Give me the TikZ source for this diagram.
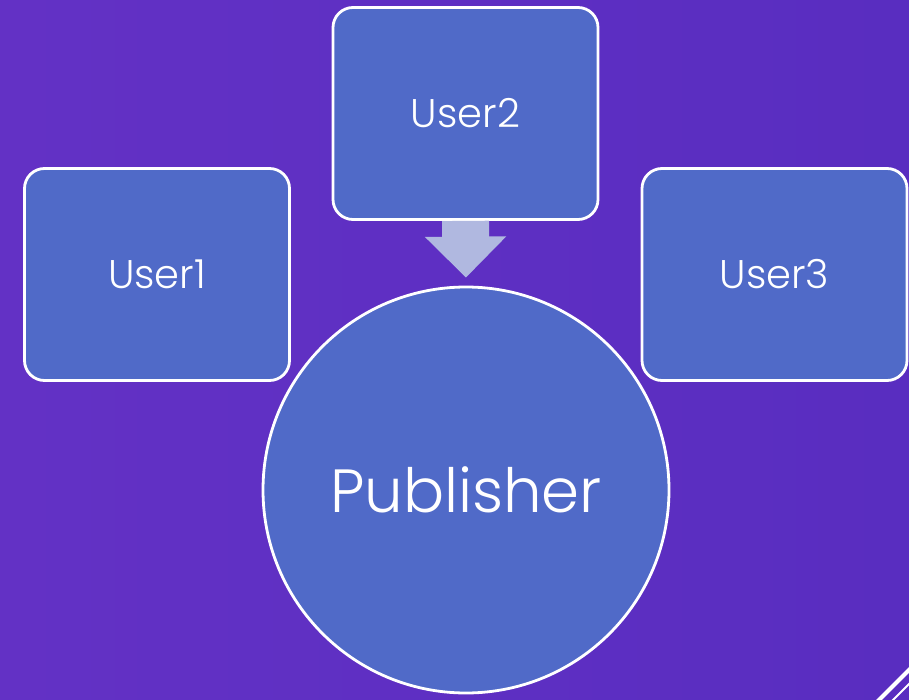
\documentclass[tikz,border=0pt]{standalone}
\usepackage{fontspec}
\setmainfont{Poppins Light}
\usepackage{tikz}
\usetikzlibrary{arrows.meta}
\definecolor{bgleft}{RGB}{99,49,197}
\definecolor{bgright}{RGB}{89,45,192}
\definecolor{boxblue}{RGB}{80,106,200}
\definecolor{arrowgrey}{RGB}{176,184,224}

\begin{document}
\begin{tikzpicture}[x=1pt,y=-1pt]
\tikzset{userbox/.style = {shape=rectangle,draw=white,line width=2.8pt,fill=boxblue,
  rounded corners=20pt,minimum width=265pt,minimum height=212pt,inner sep=0pt,
  text=white,font=\fontsize{40}{46}\selectfont}}
\tikzset{hub/.style = {shape=circle,draw=white,line width=2.8pt,fill=boxblue,
  minimum size=406pt,inner sep=0pt,text=white,font=\fontsize{61}{70}\selectfont}}
\tikzset{push/.style = {draw=arrowgrey,line width=47pt,
  -{Triangle[width=79pt,length=41pt]}}}
\shade[left color=bgleft,right color=bgright] (0,0) rectangle (909,700);
\useasboundingbox (0,0) rectangle (909,700);

\node[userbox] (user1) at (157,274.5) {User1};
\node[userbox] (user2) at (465.5,113.5) {User2};
\node[userbox] (user3) at (774.5,274.5) {User3};
\node[hub] (pub) at (466,490) {Publisher};

\draw[push,shorten >=8pt] (user2.south) -- (pub.north);

% corner stripes
\draw[white,line width=4pt] (911,668) -- (875,704);
\draw[white,line width=2pt] (911,682) -- (891,702);
\end{tikzpicture}
\end{document}
